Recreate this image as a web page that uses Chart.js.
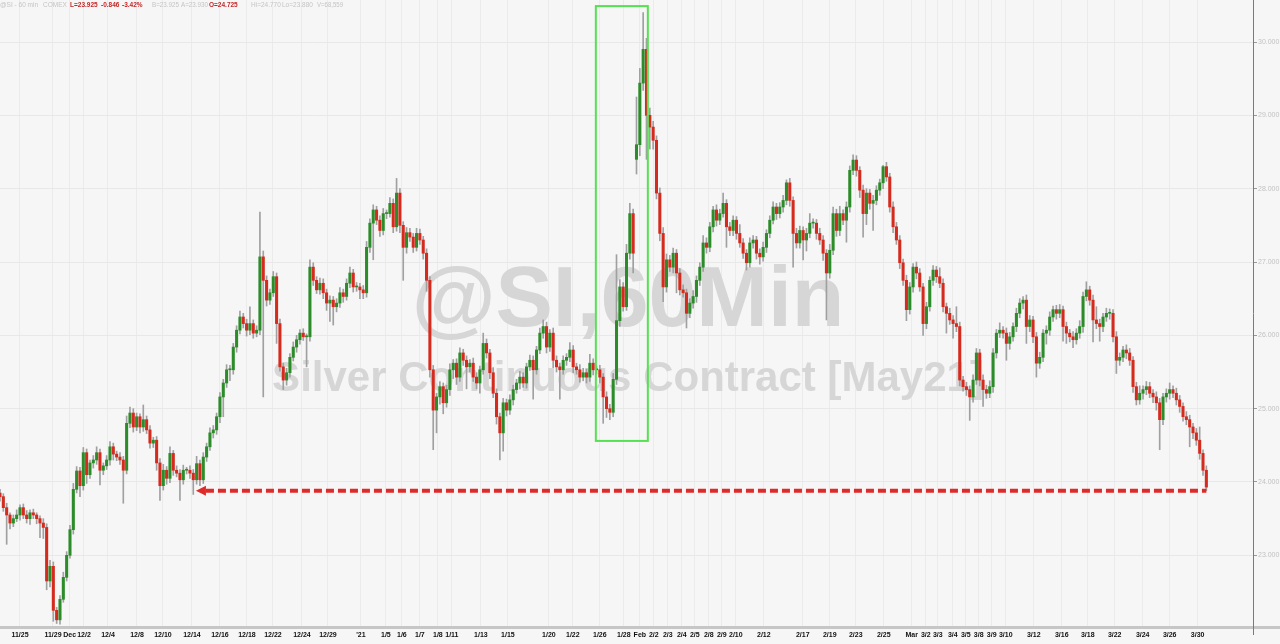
<!DOCTYPE html>
<html>
<head>
<meta charset="utf-8">
<title>@SI 60 min</title>
<script src="https://cdn.jsdelivr.net/npm/chart.js@4.4.1/dist/chart.umd.min.js"></script>
<style>
  html, body { margin: 0; padding: 0; background: #f6f6f6; }
  #wrap { width: 1280px; height: 644px; position: relative; }
</style>
</head>
<body>
<div id="wrap"><canvas id="fig"></canvas></div>
<script>
// SI (silver, May21) 60 min, squeezed to one bar per ~5.5 hours
const firstOpen = 23.85;

const closes = [
  23.80, 23.65, 23.55, 23.44, 23.50, 23.55, 23.65, 23.55, 23.50, 23.58,
  23.55, 23.50, 23.44, 23.38, 22.65, 22.85, 22.25, 22.12, 22.40, 22.70,
  23.00, 23.35, 23.90, 24.15, 23.95, 24.40, 24.10, 24.26, 24.30, 24.40,
  24.16, 24.22, 24.30, 24.48, 24.38, 24.34, 24.30, 24.16, 24.80, 24.94,
  24.75, 24.89, 24.75, 24.85, 24.71, 24.53, 24.57, 24.26, 23.95, 24.16,
  24.05, 24.39, 24.16, 24.12, 24.03, 24.16, 24.16, 24.12, 24.03, 24.25,
  24.03, 24.34, 24.48, 24.67, 24.71, 24.89, 25.16, 25.35, 25.53, 25.53,
  25.84, 26.07, 26.25, 26.16, 26.07, 26.16, 26.03, 26.07, 27.07, 26.75,
  26.48, 26.58, 26.80, 26.16, 25.57, 25.39, 25.49, 25.70, 25.84, 25.94,
  26.03, 25.98, 25.98, 26.93, 26.75, 26.62, 26.71, 26.58, 26.44, 26.48,
  26.39, 26.44, 26.58, 26.53, 26.71, 26.85, 26.66, 26.66, 26.62, 26.58,
  27.20, 27.53, 27.71, 27.57, 27.43, 27.66, 27.66, 27.80, 27.48, 27.94,
  27.50, 27.20, 27.40, 27.34, 27.20, 27.39, 27.30, 27.12, 26.75, 25.53,
  24.98, 25.16, 25.30, 25.08, 25.26, 25.53, 25.62, 25.43, 25.76, 25.66,
  25.57, 25.62, 25.43, 25.35, 25.53, 25.89, 25.76, 25.49, 25.21, 24.89,
  24.67, 25.08, 24.98, 25.12, 25.26, 25.35, 25.43, 25.35, 25.57, 25.66,
  25.53, 25.80, 26.03, 26.12, 25.84, 26.03, 25.66, 25.57, 25.53, 25.66,
  25.70, 25.80, 25.57, 25.53, 25.43, 25.49, 25.43, 25.62, 25.53, 25.53,
  25.43, 25.16, 25.00, 24.95, 25.40, 26.20, 26.66, 26.39, 27.12, 27.66,
  27.12, 28.60, 29.44, 29.90, 29.00, 28.84, 28.66, 27.94, 27.39, 26.66,
  27.03, 26.93, 27.12, 26.85, 26.62, 26.58, 26.30, 26.44, 26.53, 26.75,
  26.93, 27.26, 27.20, 27.48, 27.71, 27.57, 27.66, 27.80, 27.48, 27.43,
  27.57, 27.39, 27.26, 27.12, 26.99, 27.26, 27.30, 27.12, 27.07, 27.20,
  27.39, 27.57, 27.75, 27.66, 27.75, 27.84, 28.08, 27.84, 27.39, 27.26,
  27.43, 27.30, 27.39, 27.53, 27.53, 27.39, 27.30, 27.12, 26.85, 27.16,
  27.66, 27.43, 27.66, 27.57, 27.75, 28.25, 28.39, 28.25, 27.98, 27.66,
  27.94, 27.80, 27.84, 27.98, 28.08, 28.30, 28.16, 27.75, 27.48, 27.30,
  26.99, 26.75, 26.35, 26.66, 26.93, 26.85, 26.66, 26.16, 26.39, 26.75,
  26.89, 26.80, 26.71, 26.39, 26.30, 26.21, 26.16, 26.12, 25.39, 25.30,
  25.26, 25.16, 25.39, 25.76, 25.39, 25.26, 25.21, 25.30, 25.76, 26.03,
  26.07, 26.03, 25.89, 25.98, 26.12, 26.30, 26.44, 26.48, 26.12, 26.21,
  25.98, 25.62, 25.70, 26.03, 26.07, 26.25, 26.35, 26.30, 26.35, 26.12,
  26.03, 25.98, 25.94, 26.03, 26.12, 26.53, 26.62, 26.48, 26.21, 26.16,
  26.12, 26.25, 26.30, 26.30, 25.98, 25.66, 25.70, 25.80, 25.76, 25.66,
  25.30, 25.12, 25.21, 25.26, 25.30, 25.21, 25.16, 25.08, 24.85, 25.16,
  25.21, 25.26, 25.21, 25.12, 25.03, 24.89, 24.85, 24.75, 24.67, 24.57,
  24.39, 24.16, 23.93
];

// wick length above / below the body, in cents
const wickUp = [
  5, 4, 6, 3, 5, 7, 4, 5, 6, 4,   5, 3, 4, 6, 5, 8, 6, 4, 5, 7,
  5, 6, 8, 6, 5, 7, 5, 4, 6, 8,   5, 4, 6, 7, 5, 4, 6, 5, 10, 8,
  6, 5, 4, 20, 5, 6, 4, 5, 6, 8,  5, 9, 4, 6, 5, 7, 4, 6, 5, 10,
  5, 6, 5, 7, 6, 5, 6, 5, 7, 6,   5, 6, 8, 5, 6, 23, 5, 6, 61, 8,
  6, 5, 7, 5, 6, 5, 6, 5, 7, 6,   5, 6, 4, 10, 6, 5, 7, 6, 5, 6,
  5, 6, 7, 5, 6, 8, 5, 6, 5, 6,   8, 6, 7, 5, 6, 7, 5, 8, 6, 20,
  6, 5, 7, 6, 5, 7, 6, 5, 6, 5,   6, 5, 7, 5, 6, 8, 5, 6, 7, 5,
  6, 5, 7, 6, 5, 14, 6, 5, 7, 6,  5, 6, 5, 7, 6, 5, 8, 6, 5, 7,
  6, 5, 7, 9, 6, 5, 7, 6, 5, 6,   5, 10, 6, 5, 7, 6, 5, 12, 6, 5,
  6, 5, 7, 6, 8, 90, 10, 6, 12, 14, 6, 65, 20, 50, 15, 10, 8, 6, 7, 8,
  8, 6, 7, 5, 6, 7, 5, 6, 8, 6,   6, 10, 7, 6, 5, 7, 6, 14, 5, 6,
  6, 5, 12, 6, 5, 7, 6, 5, 6, 7,  5, 6, 7, 5, 6, 7, 4, 6, 5, 7,
  6, 5, 7, 13, 6, 5, 7, 6, 5, 8,  9, 6, 10, 5, 7, 6, 7, 6, 5, 7,
  6, 5, 7, 6, 5, 2, 6, 5, 7, 6,   6, 5, 7, 6, 5, 7, 6, 5, 6, 5,
  6, 5, 12, 6, 5, 7, 6, 23, 6, 5, 6, 5, 7, 6, 5, 7, 6, 8, 6, 5,
  10, 5, 7, 6, 5, 7, 6, 5, 7, 6,  5, 6, 7, 5, 6, 7, 5, 6, 7, 5,
  6, 5, 7, 6, 8, 6, 11, 5, 7, 18, 6, 5, 7, 6, 5, 7, 6, 5, 7, 6,
  5, 6, 10, 5, 7, 6, 5, 7, 6, 5,  6, 9, 5, 7, 6, 5, 7, 6, 5, 6,
  18, 5, 6
];
const wickDn = [
  6, 5, 40, 8, 5, 4, 7, 5, 6, 8,  5, 7, 20, 15, 12, 8, 15, 5, 6, 4,
  5, 4, 6, 5, 15, 6, 12, 5, 7, 6, 20, 6, 5, 7, 8, 5, 6, 45, 5, 6,
  7, 5, 8, 6, 5, 7, 6, 10, 20, 6, 8, 6, 7, 5, 28, 6, 5, 7, 20, 6,
  8, 5, 6, 5, 7, 6, 8, 27, 6, 15, 6, 7, 5, 6, 8, 6, 7, 5, 6, 159,
  8, 6, 5, 27, 6, 13, 7, 6, 5, 7, 6, 5, 41, 6, 7, 5, 6, 8, 10, 25,
  25, 7, 6, 8, 5, 6, 7, 6, 12, 8, 6, 7, 50, 6, 8, 6, 7, 5, 8, 6,
  10, 45, 8, 6, 7, 5, 6, 8, 15, 10, 54, 31, 10, 15, 6, 8, 12, 10, 6, 7,
  30, 7, 6, 8, 14, 6, 7, 8, 6, 10, 37, 25, 8, 6, 7, 5, 8, 6, 7, 5,
  40, 6, 5, 7, 8, 6, 10, 7, 40, 6, 7, 6, 8, 6, 7, 5, 8, 6, 7, 6,
  8, 36, 12, 10, 6, 7, 8, 6, 5, 8, 27, 20, 15, 10, 60, 30, 12, 8, 10, 20,
  7, 6, 8, 27, 7, 6, 20, 6, 7, 8, 7, 6, 8, 6, 7, 8, 6, 5, 28, 7,
  7, 8, 6, 7, 10, 6, 7, 8, 10, 6, 7, 6, 5, 8, 6, 7, 6, 8, 46, 7,
  7, 27, 15, 6, 7, 8, 6, 10, 64, 7, 6, 8, 7, 6, 30, 7, 6, 8, 10, 32,
  15, 8, 37, 6, 7, 8, 6, 7, 8, 6, 8, 7, 15, 6, 7, 8, 6, 16, 7, 6,
  7, 8, 6, 7, 27, 6, 20, 7, 8, 6, 8, 32, 7, 6, 8, 23, 7, 6, 8, 7,
  6, 7, 23, 8, 6, 7, 6, 8, 23, 7, 8, 19, 7, 6, 15, 7, 6, 8, 6, 20,
  14, 7, 11, 6, 7, 8, 6, 7, 30, 7, 20, 7, 6, 8, 7, 18, 7, 6, 8, 7,
  8, 7, 6, 8, 7, 6, 8, 10, 41, 7, 7, 8, 6, 7, 8, 6, 7, 27, 8, 7,
  8, 7, 5
];

// Sunday-night gap up on the silver squeeze
const gapIdx = [191];
const gapOpen = [28.40];

const tickPos = [
  6, 15.9, 20.9, 25.2, 32.4, 41.1, 48.9, 57.6, 66, 74.1, 81.9, 90.6, 98.4,
  108.3, 115.8, 120.6, 126, 131.4, 135.6, 144.3, 152.4, 164.7, 171.9, 180, 187.2,
  192, 196.2, 200.4, 204.6, 208.5, 212.7, 216.6, 220.8, 229.2, 240.9, 249, 256.8, 265.2,
  273.6, 277.8, 281.4, 285.9, 289.8, 293.7, 297.6, 301.8, 310.2, 318.6, 326.4, 334.5,
  342.9, 351, 359.4
];
const tickLabels = [
  '11/25', '11/29', 'Dec', '12/2', '12/4', '12/8', '12/10', '12/14', '12/16', '12/18', '12/22', '12/24', '12/29',
  "'21", '1/5', '1/6', '1/7', '1/8', '1/11', '1/13', '1/15', '1/20', '1/22', '1/26', '1/28',
  'Feb', '2/2', '2/3', '2/4', '2/5', '2/8', '2/9', '2/10', '2/12', '2/17', '2/19', '2/23', '2/25',
  'Mar', '3/2', '3/3', '3/4', '3/5', '3/8', '3/9', '3/10', '3/12', '3/16', '3/18', '3/22',
  '3/24', '3/26', '3/30'
];
const priceTicks = [23, 24, 25, 26, 27, 28, 29, 30];

// highlight box around the squeeze, and the support arrow
const boxFrom = 178.8, boxTo = 194.4, boxTop = 30.49, boxBottom = 24.56;
const supportLevel = 23.88, arrowTip = 58.8, arrowEnd = 362;

const headerParts = [
  ['@SI - 60 min', false], ['COMEX', false], ['L=23.925', true], ['-0.846', true], ['-3.42%', true],
  ['B=23.925', false], ['A=23.930', false], ['O=24.725', true], ['Hi=24.770', false],
  ['Lo=23.880', false], ['V=68,559', false]
];

const opens = closes.map((c, i) => i === 0 ? firstOpen : closes[i - 1]);
gapIdx.forEach((g, k) => { opens[g] = gapOpen[k]; });

const bodies = closes.map((c, i) => ({ x: i, y: [opens[i], c] }));
const wicks = closes.map((c, i) => ({
  x: i,
  y: [Math.min(opens[i], c) - wickDn[i] / 100, Math.max(opens[i], c) + wickUp[i] / 100]
}));
const bodyColors = closes.map((c, i) => c >= opens[i] ? '#2c8c2a' : '#d52b1e');

const FONT = '"Liberation Sans", Arial, sans-serif';

const decor = {
  id: 'decor',
  beforeDraw(chart) {
    const ctx = chart.ctx;
    ctx.save();
    ctx.fillStyle = '#f6f6f6';
    ctx.fillRect(0, 0, chart.width, chart.height);
    ctx.restore();
  },
  beforeDatasetsDraw(chart) {
    const ctx = chart.ctx;
    ctx.save();
    ctx.fillStyle = '#d6d6d6';
    ctx.textAlign = 'center';
    ctx.textBaseline = 'alphabetic';
    ctx.font = 'bold 86px ' + FONT;
    ctx.fillText('@SI,60Min', 628, 326);
    ctx.font = 'bold 42px ' + FONT;
    ctx.fillText('Silver Continuous Contract [May21]', 628, 391);
    ctx.restore();
  },
  afterDatasetsDraw(chart) {
    const ctx = chart.ctx;
    const x = chart.scales.x, y = chart.scales.y;
    ctx.save();
    // green box
    ctx.strokeStyle = '#56e052';
    ctx.lineWidth = 2;
    const bx = x.getPixelForValue(boxFrom), bx2 = x.getPixelForValue(boxTo);
    const by = y.getPixelForValue(boxTop), by2 = y.getPixelForValue(boxBottom);
    ctx.strokeRect(bx, by, bx2 - bx, by2 - by);
    // red dashed arrow
    const ay = y.getPixelForValue(supportLevel);
    const tip = x.getPixelForValue(arrowTip);
    const end = x.getPixelForValue(arrowEnd);
    ctx.strokeStyle = '#df2a2a';
    ctx.fillStyle = '#df2a2a';
    ctx.lineWidth = 4;
    ctx.setLineDash([8, 4]);
    ctx.beginPath();
    ctx.moveTo(tip + 10, ay);
    ctx.lineTo(end, ay);
    ctx.stroke();
    ctx.setLineDash([]);
    ctx.beginPath();
    ctx.moveTo(tip, ay);
    ctx.lineTo(tip + 10, ay - 5);
    ctx.lineTo(tip + 10, ay + 5);
    ctx.closePath();
    ctx.fill();
    ctx.restore();
  },
  afterDraw(chart) {
    const ctx = chart.ctx;
    const area = chart.chartArea;
    ctx.save();
    ctx.fillStyle = '#c6c6c6';
    ctx.fillRect(0, area.bottom, chart.width, 3);
    // y axis line runs a little below the plot
    ctx.fillStyle = '#7a7a7a';
    ctx.fillRect(area.right, area.bottom, 1, 9);
    ctx.textBaseline = 'middle';
    const hx = [0, 43, 70, 101, 122, 152, 181, 209, 251, 282, 317];
    const hw = [40, 24, 30, 19, 23, 27, 27, 32, 30, 32, 26];
    headerParts.forEach(([txt, hot], i) => {
      ctx.font = (hot ? 'bold ' : '') + '6.5px ' + FONT;
      ctx.fillStyle = hot ? '#c42626' : '#c4c4c4';
      ctx.fillText(txt, hx[i], 5, hw[i]);
    });
    ctx.restore();
  }
};

new Chart(document.getElementById('fig'), {
  type: 'bar',
  data: {
    datasets: [
      {
        data: wicks,
        backgroundColor: '#a0a0a0',
        barThickness: 1,
        grouped: false,
        order: 2
      },
      {
        data: bodies,
        backgroundColor: bodyColors,
        barThickness: 2.4,
        minBarLength: 1,
        grouped: false,
        order: 1
      }
    ]
  },
  options: {
    responsive: true,
    maintainAspectRatio: false,
    animation: false,
    devicePixelRatio: 1,
    layout: { padding: 0 },
    plugins: { legend: { display: false }, tooltip: { enabled: false } },
    scales: {
      x: {
        type: 'linear',
        min: 0,
        max: 376,
        offset: false,
        grid: { offset: false, color: '#ebebeb', drawTicks: false },
        border: { display: false },
        afterBuildTicks: (s) => { s.ticks = tickPos.map(v => ({ value: v })); },
        afterFit: (s) => { s.height = 18; s.paddingLeft = 0; s.paddingRight = 0; },
        ticks: {
          autoSkip: false,
          maxRotation: 0,
          minRotation: 0,
          padding: 5,
          color: '#111',
          font: { family: FONT, size: 7, weight: 'bold' },
          callback: (v, i) => tickLabels[i]
        }
      },
      y: {
        type: 'linear',
        position: 'right',
        min: 22.036,
        max: 30.573,
        grid: { color: '#e8e8e8', tickLength: 4, tickColor: '#9a9a9a' },
        border: { display: true, color: '#7a7a7a', width: 1 },
        afterBuildTicks: (s) => { s.ticks = priceTicks.map(v => ({ value: v })); },
        afterFit: (s) => { s.width = 27; s.paddingTop = 0; s.paddingBottom = 0; },
        ticks: {
          padding: 1,
          color: '#c2c2c2',
          font: { family: FONT, size: 7 },
          callback: (v) => v.toFixed(3)
        }
      }
    }
  },
  plugins: [decor]
});
</script>
</body>
</html>
